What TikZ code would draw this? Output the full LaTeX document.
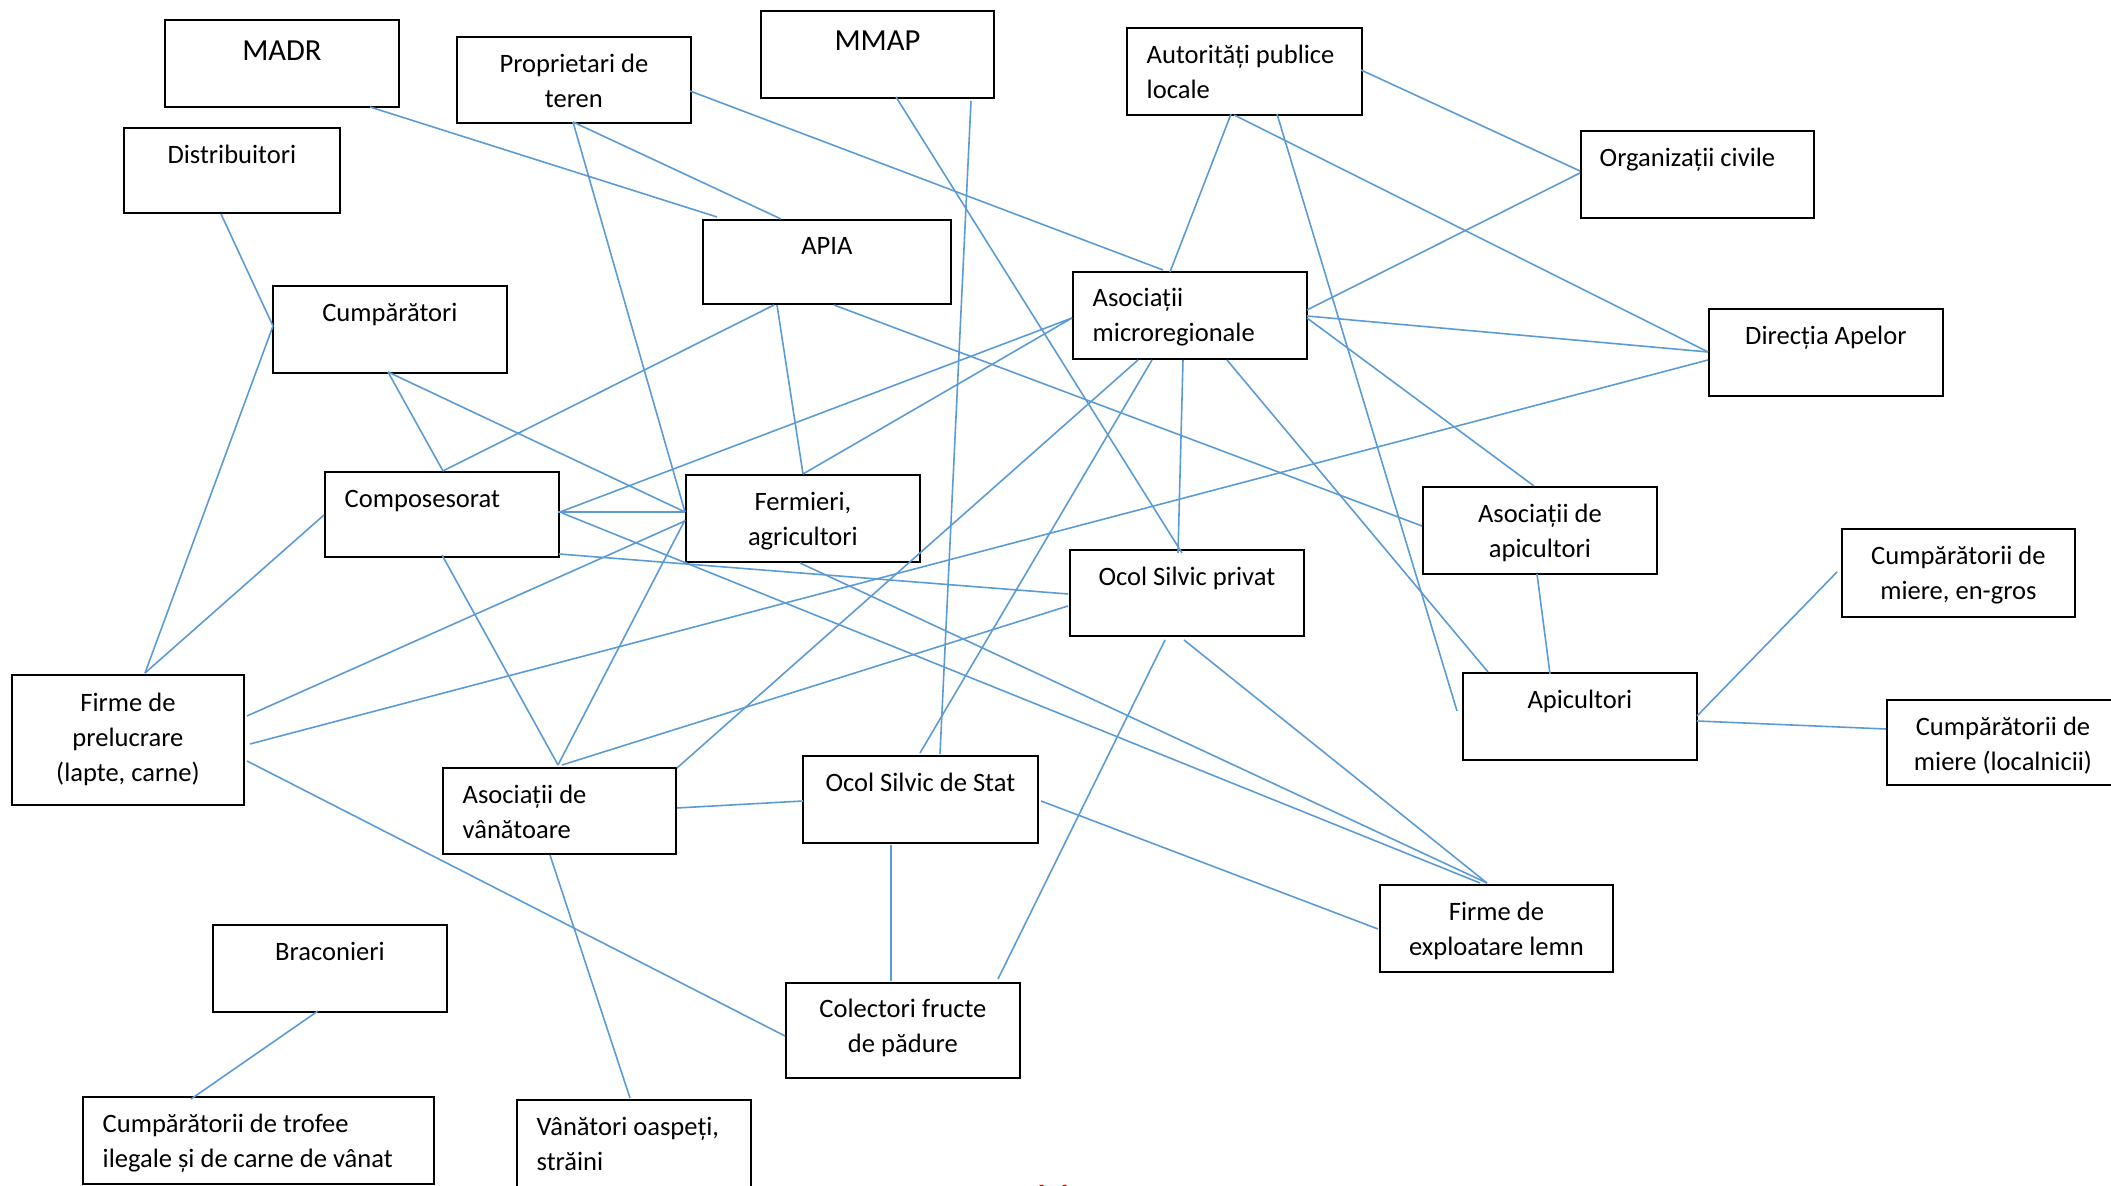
\documentclass[tikz,border=0pt]{standalone}
\usepackage{fontspec}
\setmainfont{Carlito}
\usetikzlibrary{calc}
\definecolor{lnk}{HTML}{5B9BD5}
\definecolor{pnred}{HTML}{C00000}
\begin{document}
\begin{tikzpicture}[x=0.01cm,y=-0.01cm,
  box/.style={draw=black,line width=0.48pt,rectangle,inner sep=0pt,anchor=north west,minimum width=2.34cm,minimum height=0.87cm},
  txt/.style={inner sep=0pt,align=center,font=\fontsize{7.55}{9.95}\selectfont},
  txtl/.style={txt,align=left,anchor=north west},
  txtc/.style={txt,anchor=north},
  big/.style={inner sep=0pt,anchor=north,font=\fontsize{8.7}{11}\selectfont},
  link/.style={draw=lnk,line width=0.45pt}]
\fill[white] (0,0) rectangle (2111,1186);
\useasboundingbox (0,0) rectangle (2111,1186);

% boxes
\node[box] (madr) at (164,19) {};
\node[box,minimum height=0.86cm] (prop) at (456,36) {};
\node[box,minimum width=2.33cm] (mmap) at (760,10) {};
\node[box,minimum width=2.35cm] (aut) at (1126,27) {};
\node[box,minimum width=2.33cm] (org) at (1580,130) {};
\node[box,minimum width=2.16cm,minimum height=0.85cm] (dist) at (123,127) {};
\node[box,minimum width=2.48cm,minimum height=0.84cm] (apia) at (702,219) {};
\node[box] (micro) at (1072,271) {};
\node[box] (dir) at (1708,308) {};
\node[box] (cump) at (272,285) {};
\node[box,minimum height=0.85cm] (comp) at (324,471) {};
\node[box] (ferm) at (685,474) {};
\node[box] (asap) at (1422,486) {};
\node[box,minimum width=2.33cm,minimum height=0.88cm] (mgros) at (1841,528) {};
\node[box,minimum height=0.86cm] (osp) at (1069,549) {};
\node[box] (apic) at (1462,672) {};
\node[box,minimum height=0.85cm] (mloc) at (1886,699) {};
\node[box,minimum width=2.32cm,minimum height=1.30cm] (fprel) at (11,674) {};
\node[box,minimum width=2.33cm,minimum height=0.86cm] (avan) at (442,767) {};
\node[box,minimum width=2.35cm] (oss) at (802,755) {};
\node[box,minimum width=2.33cm] (fexp) at (1379,884) {};
\node[box] (brac) at (212,924) {};
\node[box,minimum height=0.95cm] (colec) at (785,982) {};
\node[box,minimum width=3.51cm] (trof) at (82,1096) {};
\node[box] (vost) at (516,1099) {};

% texts
\node[big] (madrt) at ($(madr.north)+(0,14)$) {\strut MADR};
\node[txtc] (propt) at ($(prop.north)+(0,11.5)$) {\strut Proprietari de\\teren};
\node[big] (mmapt) at ($(mmap.north)+(0,13)$) {\strut MMAP};
\node[txtl] (autt) at ($(aut.north west)+(20,11.5)$) {\strut Autorități publice\\locale};
\node[txtl] (orgt) at ($(org.north west)+(19,11.5)$) {\strut Organizații civile};
\node[txtc] (distt) at ($(dist.north)+(0,11.5)$) {\strut Distribuitori};
\node[txtc] (apiat) at ($(apia.north)+(0,10)$) {\strut APIA};
\node[txtl] (microt) at ($(micro.north west)+(20,10.5)$) {\strut Asociații\\microregionale};
\node[txtc] (dirt) at ($(dir.north)+(0,11.5)$) {\strut Direcția Apelor};
\node[txtc] (cumpt) at ($(cump.north)+(0,11.5)$) {\strut Cumpărători};
\node[txtl] (compt) at ($(comp.north west)+(20,11.5)$) {\strut Composesorat};
\node[txtc] (fermt) at ($(ferm.north)+(0,11.5)$) {\strut Fermieri,\\agricultori};
\node[txtc] (asapt) at ($(asap.north)+(0,11.5)$) {\strut Asociații de\\apicultori};
\node[txtc] (mgrost) at ($(mgros.north)+(0,11.5)$) {\strut Cumpărătorii de\\miere, en-gros};
\node[txtc] (ospt) at ($(osp.north)+(0,11.5)$) {\strut Ocol Silvic privat};
\node[txtc] (apict) at ($(apic.north)+(0,11.5)$) {\strut Apicultori};
\node[txtc] (mloct) at ($(mloc.north west)+(117,11.5)$) {\strut Cumpărătorii de\\miere (localnicii)};
\node[txtc] (fprelt) at ($(fprel.north)+(0,12.5)$) {\strut Firme de\\prelucrare\\(lapte, carne)};
\node[txtl] (avant) at ($(avan.north west)+(20,11.5)$) {\strut Asociații de\\vânătoare};
\node[txtc] (osst) at ($(oss.north)+(0,11.5)$) {\strut Ocol Silvic de Stat};
\node[txtc] (fexpt) at ($(fexp.north)+(0,11.5)$) {\strut Firme de\\exploatare lemn};
\node[txtc] (bract) at ($(brac.north)+(0,11.5)$) {\strut Braconieri};
\node[txtc] (colect) at ($(colec.north)+(0,10.5)$) {\strut Colectori fructe\\de pădure};
\node[txtl] (troft) at ($(trof.north west)+(20,11.5)$) {\strut Cumpărătorii de trofee\\ilegale și de carne de vânat};
\node[txtl] (vostt) at ($(vost.north west)+(20,11.5)$) {\strut Vânători oaspeți,\\străini};

% connectors
\draw[link] ($(madr.north west)+(206,88)$) -- ($(apia.north west)+(15,-2)$);
\draw[link] ($(prop.north west)+(117,86)$) -- ($(apia.north west)+(79,0)$);
\draw[link] ($(prop.north west)+(117,86)$) -- ($(ferm.north west)+(0,38)$);
\draw[link] ($(prop.north west)+(234,55)$) -- ($(micro.north west)+(91,-1)$);
\draw[link] ($(aut.north west)+(105,87)$) -- ($(micro.north west)+(98,1)$);
\draw[link] ($(mmap.north west)+(136,87)$) -- ($(osp.north west)+(113,4)$);
\draw[link] ($(mmap.north west)+(211,91)$) -- ($(oss.north west)+(138,-1)$);
\draw[link] ($(dist.north west)+(98,87)$) -- ($(cump.north west)+(1,41)$);
\draw[link] ($(cump.north west)+(1,41)$) -- ($(fprel.north west)+(134,-1)$);
\draw[link] ($(cump.north west)+(116,87)$) -- ($(comp.north west)+(119,0)$);
\draw[link] ($(cump.north west)+(116,87)$) -- ($(ferm.north west)+(0,38)$);
\draw[link] ($(apia.north west)+(72,86)$) -- ($(comp.north west)+(119,0)$);
\draw[link] ($(apia.north west)+(75,86)$) -- ($(ferm.north west)+(118,0)$);
\draw[link] ($(apia.north west)+(132,86)$) -- ($(asap.north west)+(0,40)$);
\draw[link] ($(comp.north west)+(234,41)$) -- ($(ferm.north west)+(0,38)$);
\draw[link] ($(comp.north west)+(236,41)$) -- ($(micro.north west)+(0,47)$);
\draw[link] ($(ferm.north west)+(118,0)$) -- ($(micro.north west)+(0,47)$);
\draw[link] ($(comp.north west)+(238,42)$) -- ($(fexp.north west)+(101,-1)$);
\draw[link] ($(ferm.north west)+(115,89)$) -- ($(fexp.north west)+(108,-1)$);
\draw[link] ($(osp.north west)+(115,91)$) -- ($(fexp.north west)+(108,-1)$);
\draw[link] ($(comp.north west)+(235,83)$) -- ($(osp.north west)+(-1,45)$);
\draw[link] ($(comp.north west)+(0,44)$) -- ($(fprel.north west)+(134,-1)$);
\draw[link] ($(comp.north west)+(118,84)$) -- ($(avan.north west)+(116,-2)$);
\draw[link] ($(ferm.north west)+(0,46)$) -- ($(avan.north west)+(116,-2)$);
\draw[link] ($(ferm.north west)+(0,47)$) -- ($(fprel.north west)+(236,42)$);
\draw[link] ($(dir.north west)+(0,52)$) -- ($(fprel.north west)+(239,70)$);
\draw[link] ($(fprel.north west)+(236,87)$) -- ($(colec.north west)+(0,54)$);
\draw[link] ($(avan.north west)+(120,-2)$) -- ($(osp.north west)+(-1,57)$);
\draw[link] ($(avan.north west)+(235,1)$) -- ($(micro.north west)+(66,89)$);
\draw[link] ($(avan.north west)+(235,41)$) -- ($(oss.north west)+(1,46)$);
\draw[link] ($(avan.north west)+(108,88)$) -- ($(vost.north west)+(114,-1)$);
\draw[link] ($(oss.north west)+(89,90)$) -- ($(colec.north west)+(106,-1)$);
\draw[link] ($(oss.north west)+(239,46)$) -- ($(fexp.north west)+(-1,45)$);
\draw[link] ($(osp.north west)+(96,91)$) -- ($(colec.north west)+(213,-3)$);
\draw[link] ($(brac.north west)+(106,87)$) -- ($(trof.north west)+(109,3)$);
\draw[link] ($(micro.north west)+(111,89)$) -- ($(osp.north west)+(109,4)$);
\draw[link] ($(micro.north west)+(80,89)$) -- ($(oss.north west)+(118,-2)$);
\draw[link] ($(micro.north west)+(155,89)$) -- ($(apic.north west)+(26,0)$);
\draw[link] ($(aut.north west)+(151,87)$) -- ($(apic.north west)+(-5,39)$);
\draw[link] ($(aut.north west)+(108,88)$) -- ($(dir.north west)+(0,44)$);
\draw[link] ($(aut.north west)+(235,43)$) -- ($(org.north west)+(0,41)$);
\draw[link] ($(micro.north west)+(235,39)$) -- ($(org.north west)+(0,43)$);
\draw[link] ($(micro.north west)+(235,45)$) -- ($(dir.north west)+(0,44)$);
\draw[link] ($(micro.north west)+(235,47)$) -- ($(asap.north west)+(112,0)$);
\draw[link] ($(asap.north west)+(115,88)$) -- ($(apic.north west)+(88,2)$);
\draw[link] ($(apic.north west)+(235,44)$) -- ($(mgros.north west)+(-4,44)$);
\draw[link] ($(apic.north west)+(235,49)$) -- ($(mloc.north west)+(0,30)$);

% page number, cut by the page edge as in the reference
\node[anchor=base,inner sep=0pt,text=pnred,font=\fontsize{12.9}{15}\selectfont] (pnum) at (1051,1215) {11};
\end{tikzpicture}
\end{document}
